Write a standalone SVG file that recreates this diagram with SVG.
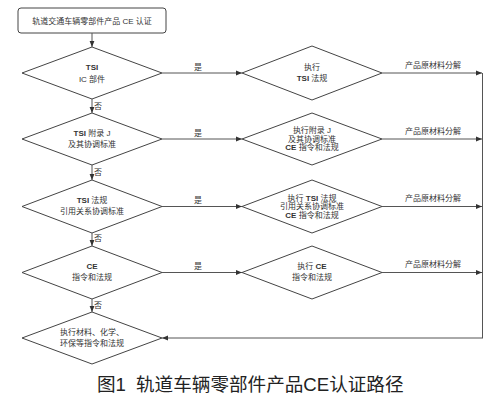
<svg xmlns="http://www.w3.org/2000/svg" width="503" height="407" viewBox="0 0 503 407">
<defs>
<marker id="ah" viewBox="0 0 10 10" refX="10" refY="5" markerWidth="6" markerHeight="6" orient="auto" markerUnits="userSpaceOnUse">
<path d="M0,1 L10,5 L0,9 z" fill="#333"/>
</marker>
</defs>
<style>
.shape{fill:#fff;stroke:#444;stroke-width:1}
.t{font-family:"Liberation Sans","Noto Sans CJK SC",sans-serif;font-size:8px;fill:#333;text-anchor:middle}
.b{font-weight:bold}
.c{fill:none;stroke:#555;stroke-width:1;marker-end:url(#ah)}
.l{fill:none;stroke:#555;stroke-width:1}
.cap{font-family:"Liberation Sans","Noto Sans CJK SC",sans-serif;font-size:18.6px;fill:#222}
</style>
<rect width="503" height="407" fill="#fff"/>
<g id="start">
<rect class="shape" x="18" y="8" width="148" height="25" rx="3"/>
<text class="t" x="92" y="23.5">轨道交通车辆零部件产品 CE 认证</text>
</g>
<g id="q1">
<polygon class="shape" points="92,47 162,73 92,99 22,73"/>
<text class="t b" x="92" y="70">TSI</text>
<text class="t" x="92" y="82">IC 部件</text>
</g>
<g id="q2">
<polygon class="shape" points="92,113 162,139 92,165 22,139"/>
<text class="t" x="92" y="136"><tspan class="b">TSI</tspan> 附录 J</text>
<text class="t" x="92" y="147">及其协调标准</text>
</g>
<g id="q3">
<polygon class="shape" points="92,180 162,206.5 92,233 22,206.5"/>
<text class="t" x="92" y="203"><tspan class="b">TSI</tspan> 法规</text>
<text class="t" x="92" y="214">引用关系协调标准</text>
</g>
<g id="q4">
<polygon class="shape" points="92,246 162,272.5 92,299 22,272.5"/>
<text class="t b" x="92" y="269">CE</text>
<text class="t" x="92" y="280">指令和法规</text>
</g>
<g id="q5">
<polygon class="shape" points="92,312 162,338 92,364 22,338"/>
<text class="t" x="92" y="335">执行材料、化学、</text>
<text class="t" x="92" y="346">环保等指令和法规</text>
</g>
<g id="a1">
<polygon class="shape" points="312,46 382,73 312,100 242,73"/>
<text class="t" x="312" y="70">执行</text>
<text class="t" x="312" y="81"><tspan class="b">TSI</tspan> 法规</text>
</g>
<g id="a2">
<polygon class="shape" points="312,113 382,139 312,165 242,139"/>
<text class="t" x="312" y="133">执行附录 J</text>
<text class="t" x="312" y="141.5">及其协调标准</text>
<text class="t" x="312" y="150"><tspan class="b">CE</tspan> 指令和法规</text>
</g>
<g id="a3">
<polygon class="shape" points="312,180 382,206.5 312,233 242,206.5"/>
<text class="t" x="312" y="200.5">执行 <tspan class="b">TSI</tspan> 法规</text>
<text class="t" x="312" y="209">引用关系协调标准</text>
<text class="t" x="312" y="217.5"><tspan class="b">CE</tspan> 指令和法规</text>
</g>
<g id="a4">
<polygon class="shape" points="312,246 382,272.5 312,299 242,272.5"/>
<text class="t" x="312" y="269">执行 <tspan class="b">CE</tspan></text>
<text class="t" x="312" y="280">指令和法规</text>
</g>
<g id="connectors">
<path class="c" d="M92,33 V47"/>
<path class="c" d="M92,99 V113"/>
<path class="c" d="M92,165 V180"/>
<path class="c" d="M92,233 V246"/>
<path class="c" d="M92,299 V312"/>
<path class="c" d="M162,73 H242"/>
<path class="c" d="M162,139 H242"/>
<path class="c" d="M162,206.5 H242"/>
<path class="c" d="M162,272.5 H242"/>
<path class="c" d="M382,73 H482"/>
<path class="c" d="M382,139 H482"/>
<path class="c" d="M382,206.5 H482"/>
<path class="c" d="M382,272.5 H482"/>
<path class="l" d="M482.5,73 V338"/>
<path class="c" d="M483,338 H162"/>
<text class="t" x="98" y="109">否</text>
<text class="t" x="98" y="175">否</text>
<text class="t" x="98" y="241">否</text>
<text class="t" x="98" y="308">否</text>
<text class="t" x="198" y="70">是</text>
<text class="t" x="198" y="136">是</text>
<text class="t" x="198" y="203">是</text>
<text class="t" x="198" y="269">是</text>
<text class="t" x="433" y="68">产品原材料分解</text>
<text class="t" x="433" y="134">产品原材料分解</text>
<text class="t" x="433" y="201">产品原材料分解</text>
<text class="t" x="433" y="267">产品原材料分解</text>
</g>
<text class="cap" x="97" y="391">图1<tspan x="136">轨道车辆零部件产品CE认证路径</tspan></text>
</svg>
